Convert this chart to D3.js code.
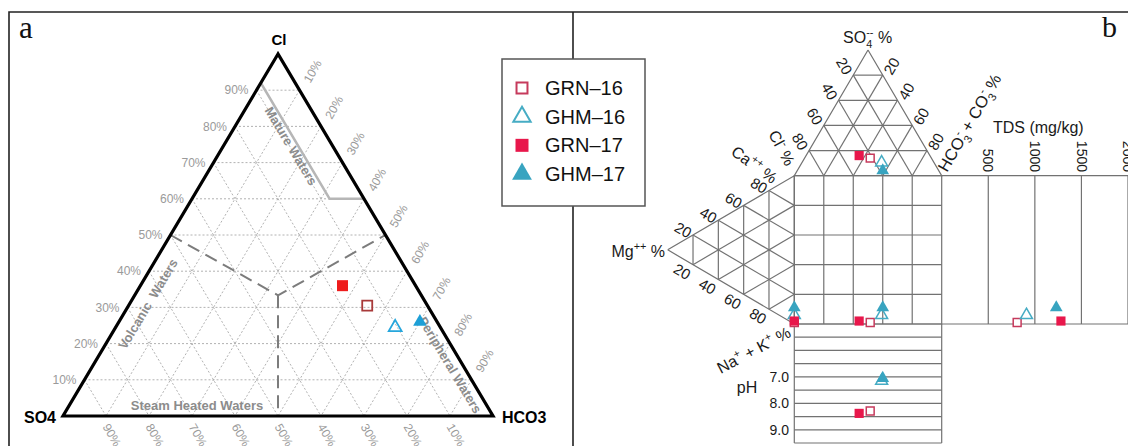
<!DOCTYPE html>
<html>
<head>
<meta charset="utf-8">
<script src="https://cdn.jsdelivr.net/npm/d3@7"></script>
<style>
  html, body { margin: 0; padding: 0; background: #fff; }
  svg { display: block; font-family: "Liberation Sans", Arial, Helvetica, sans-serif; }
</style>
</head>
<body>
<svg id="chart" width="1128" height="446"></svg>
<script>
// ---- samples ----
const samples = ["GRN\u201316", "GHM\u201316", "GRN\u201317", "GHM\u201317"];

// Giggenbach Cl–SO4–HCO3 ternary (%)
const gigCl   = [30.5, 24.5, 36, 26];
const gigSO4  = [14, 10.5, 17, 4];
const gigHCO3 = [55.5, 65, 47, 70];

// Durov diagram: anions (%)
const durSO4  = [14, 10.5, 16, 4];
const durCl   = [41.5, 35.5, 48, 38];
const durHCO3 = [44.5, 54, 36, 58];
// Durov diagram: cations (%)
const durCa   = [1, 6, 2, 11];
const durMg   = [0, 0, 0, 0];
const durNaK  = [99, 94, 98, 89];
// total dissolved solids (mg/kg) and pH
const tds = [810, 910, 1280, 1230];
const pH  = [8.29, 7.15, 8.38, 7.05];

// axis ticks
const gigTicks = [10, 20, 30, 40, 50, 60, 70, 80, 90];
const durTicks = [20, 40, 60, 80];
const tdsTicks = [500, 1000, 1500, 2000];
const pHLines  = [5, 5.5, 6, 6.5, 7, 7.5, 8, 8.5, 9, 9.5];
const pHLabels = [7, 8, 9];

// region boundaries of the Giggenbach plot, [Cl, SO4, HCO3]
const matureLine = [[92, 8, 0], [60, 8, 32], [60, 0, 40]];
const dashedLines = [
  [[50, 50, 0], [100/3, 100/3, 100/3], [50, 0, 50]],
  [[100/3, 100/3, 100/3], [0, 50, 50]]
];

// ---- styles ----
const symStyle = {
  gig: [
    { shape: d3.symbolSquare,   fill: "none",    stroke: "#a83a3a", area: 100 },
    { shape: d3.symbolTriangle, fill: "none",    stroke: "#26a6dc", area: 72 },
    { shape: d3.symbolSquare,   fill: "#ee1c1c", stroke: "none",    area: 121 },
    { shape: d3.symbolTriangle, fill: "#1d9fd6", stroke: "none",    area: 80 }
  ],
  dur: [
    { shape: d3.symbolSquare,   fill: "#fff",    stroke: "#c63a5c", area: 62 },
    { shape: d3.symbolTriangle, fill: "none",    stroke: "#46acc4", area: 62 },
    { shape: d3.symbolSquare,   fill: "#e8174b", stroke: "none",    area: 84 },
    { shape: d3.symbolTriangle, fill: "#38a4c0", stroke: "none",    area: 70 }
  ],
  legend: [
    { shape: d3.symbolSquare,   fill: "none",    stroke: "#c63a5c", area: 120 },
    { shape: d3.symbolTriangle, fill: "none",    stroke: "#46acc4", area: 130 },
    { shape: d3.symbolSquare,   fill: "#e8174b", stroke: "none",    area: 169 },
    { shape: d3.symbolTriangle, fill: "#38a4c0", stroke: "none",    area: 170 }
  ]
};

const svg = d3.select("#chart");
const lerp = (p, q, t) => [p[0] + (q[0] - p[0]) * t, p[1] + (q[1] - p[1]) * t];
const line = d3.line();

function symbols(g, pts, styles, sw) {
  pts.forEach((p, i) => {
    const s = styles[i];
    g.append("path")
      .attr("d", d3.symbol().type(s.shape).size(s.area)())
      .attr("transform", `translate(${p[0]},${p[1]})`)
      .attr("fill", s.fill)
      .attr("stroke", s.stroke)
      .attr("stroke-width", sw);
  });
}

// rich text with sub/superscripts
function rich(t, parts, fs) {
  let shift = 0;
  parts.forEach(p => {
    const target = p.sub ? fs * 0.3 : p.sup ? -fs * 0.42 : 0;
    const ts = t.append("tspan").attr("dy", target - shift).text(p.t);
    if (p.sub || p.sup) ts.attr("font-size", fs * 0.68);
    if (p.dx) ts.attr("dx", p.dx);
    shift = target;
  });
}

// ternary grid between corners A,B,C
function ternGrid(g, A, B, C, steps, attrs) {
  const segs = [];
  steps.forEach(t => {
    segs.push([lerp(A, B, t), lerp(A, C, t)]);
    segs.push([lerp(B, A, t), lerp(B, C, t)]);
    segs.push([lerp(C, A, t), lerp(C, B, t)]);
  });
  segs.forEach(s => {
    const l = g.append("path").attr("d", line(s)).attr("fill", "none");
    Object.entries(attrs).forEach(([k, v]) => l.attr(k, v));
  });
}

// ---- frame ----
svg.append("path").attr("d", "M9,446V12H1128")
  .attr("fill", "none").attr("stroke", "#222").attr("stroke-width", 1.6);
svg.append("path").attr("d", "M573,12V59M573,206V446")
  .attr("fill", "none").attr("stroke", "#222").attr("stroke-width", 1.6);
svg.append("text").attr("x", 19).attr("y", 38).attr("font-family", "'Liberation Serif', 'Times New Roman', serif")
  .attr("font-size", 31).attr("fill", "#111").text("a");
svg.append("text").attr("x", 1102).attr("y", 37).attr("font-family", "'Liberation Serif', 'Times New Roman', serif")
  .attr("font-size", 30).attr("fill", "#111").text("b");

// ================= panel a: Giggenbach ternary =================
const gX = d3.scaleLinear().domain([0, 100]).range([63, 493]);   // position along base
const gY = d3.scaleLinear().domain([0, 100]).range([416, 54]);   // Cl %
const gPt = (cl, so4, hco3) => [gX(hco3 + cl / 2), gY(cl)];

const ga = svg.append("g");
const gCl = gPt(100, 0, 0), gS = gPt(0, 100, 0), gH = gPt(0, 0, 100);
ternGrid(ga, gCl, gS, gH, gigTicks.map(v => v / 100),
  { stroke: "#a9a9a9", "stroke-width": 0.9, "stroke-dasharray": "2,2" });

// region boundaries
ga.append("path").attr("d", line(matureLine.map(d => gPt(...d))))
  .attr("fill", "none").attr("stroke", "#b6b6b6").attr("stroke-width", 2.6);
dashedLines.forEach(dl => {
  ga.append("path").attr("d", line(dl.map(d => gPt(...d))))
    .attr("fill", "none").attr("stroke", "#7c7c7c").attr("stroke-width", 2)
    .attr("stroke-dasharray", "13,7");
});

// outline
ga.append("path").attr("d", line([gCl, gS, gH]) + "Z")
  .attr("fill", "none").attr("stroke", "#000").attr("stroke-width", 3.2)
  .attr("stroke-linejoin", "miter");

// tick labels
const tickGray = "#9a9a9a";
gigTicks.forEach(v => {
  const pl = gPt(v, 100 - v, 0);
  ga.append("text").attr("x", pl[0] - 8).attr("y", pl[1]).attr("dy", "0.35em")
    .attr("text-anchor", "end").attr("font-size", 12).attr("fill", tickGray).text(v + "%");
  const pr = gPt(100 - v, 0, v);
  ga.append("text").attr("transform", `translate(${pr[0] + 13},${pr[1] - 19}) rotate(-60)`)
    .attr("dy", "0.35em").attr("text-anchor", "middle").attr("font-size", 12)
    .attr("fill", tickGray).text(v + "%");
  const pb = gPt(0, v, 100 - v);
  ga.append("text").attr("transform", `translate(${pb[0] + 6},${pb[1] + 19}) rotate(60)`)
    .attr("dy", "0.35em").attr("text-anchor", "middle").attr("font-size", 12)
    .attr("fill", tickGray).text(v + "%");
});

// corner labels
ga.append("text").attr("x", gCl[0] + 1).attr("y", 45).attr("text-anchor", "middle")
  .attr("font-weight", "bold").attr("font-size", 15).text("Cl");
ga.append("text").attr("x", 56).attr("y", 423).attr("text-anchor", "end")
  .attr("font-weight", "bold").attr("font-size", 16).text("SO4");
ga.append("text").attr("x", 502).attr("y", 423).attr("text-anchor", "start")
  .attr("font-weight", "bold").attr("font-size", 16).text("HCO3");

// region names
const regionStyle = t => t.attr("font-weight", "bold").attr("font-size", 13)
  .attr("fill", "#8c8c8c").attr("text-anchor", "middle").attr("dy", "0.35em");
regionStyle(ga.append("text").attr("transform", "translate(291,146) rotate(59)")).text("Mature Waters");
regionStyle(ga.append("text").attr("transform", "translate(148,304) rotate(-59)")
  .attr("xml:space", "preserve")).text("Volcanic  Waters");
regionStyle(ga.append("text").attr("transform", "translate(197,405)")).text("Steam Heated Waters");
regionStyle(ga.append("text").attr("transform", "translate(450,365) rotate(59)")).text("Peripheral Waters");

// samples
const gigPts = samples.map((_, i) => gPt(gigCl[i], gigSO4[i], gigHCO3[i]));
symbols(ga, gigPts, symStyle.gig, 1.8);

// ================= legend =================
const lg = svg.append("g");
lg.append("rect").attr("x", 502).attr("y", 59).attr("width", 143).attr("height", 147)
  .attr("fill", "#fff").attr("stroke", "#555").attr("stroke-width", 1.5);
const legY = d3.scalePoint().domain(samples).range([88, 174]);
samples.forEach((s, i) => {
  const y = legY(s);
  symbols(lg, [[522, y]], [symStyle.legend[i]], 2);
  lg.append("text").attr("x", 545).attr("y", y + 7).attr("font-size", 20).attr("fill", "#111").text(s);
});

// ================= panel b: Durov diagram =================
const gb = svg.append("g");
const gridStroke = { stroke: "#727272", "stroke-width": 1.2 };
const drawLine = (pts) => {
  const l = gb.append("path").attr("d", line(pts)).attr("fill", "none");
  Object.entries(gridStroke).forEach(([k, v]) => l.attr(k, v));
};

// anion triangle scales
const aX = d3.scaleLinear().domain([0, 100]).range([794.3, 941.7]);
const aY = d3.scaleLinear().domain([0, 100]).range([175.7, 50]);
const aPt = (so4, cl, hco3) => [aX(hco3 + so4 / 2), aY(so4)];
// cation triangle scales
const cY = d3.scaleLinear().domain([0, 100]).range([175.7, 324]);
const cX = d3.scaleLinear().domain([0, 100]).range([794.3, 667.7]);
const cPt = (ca, mg, nak) => [cX(mg), cY(nak + mg / 2)];
// TDS and pH fields
const tX = d3.scaleLinear().domain([0, 2000]).range([941.7, 1128]);
const pY = d3.scaleLinear().domain([5, 9.5]).range([324, 443]);

const aS = aPt(100, 0, 0), aCl = aPt(0, 100, 0), aH = aPt(0, 0, 100);
const cCa = cPt(100, 0, 0), cMg = cPt(0, 100, 0), cN = cPt(0, 0, 100);

ternGrid(gb, aS, aCl, aH, durTicks.map(v => v / 100), gridStroke);
ternGrid(gb, cMg, cCa, cN, durTicks.map(v => v / 100), gridStroke);
drawLine([aS, aCl, aH, aS]);
drawLine([cMg, cCa, cN, cMg]);

// central square
const sq = { x0: aX(0), x1: aX(100), y0: cY(0), y1: cY(100) };
drawLine([[sq.x0, sq.y0], [sq.x1, sq.y0], [sq.x1, sq.y1], [sq.x0, sq.y1], [sq.x0, sq.y0]]);
durTicks.forEach(v => {
  drawLine([[aX(v), sq.y0], [aX(v), sq.y1]]);
  drawLine([[sq.x0, cY(v)], [sq.x1, cY(v)]]);
});

// TDS field
drawLine([[sq.x1, sq.y0], [tX(2000), sq.y0]]);
drawLine([[sq.x1, sq.y1], [tX(2000), sq.y1]]);
tdsTicks.forEach(v => drawLine([[tX(v), sq.y0], [tX(v), sq.y1]]));

// pH field
drawLine([[sq.x0, pY(5)], [sq.x0, pY(9.5)]]);
drawLine([[sq.x1, pY(5)], [sq.x1, pY(9.5)]]);
pHLines.forEach(v => drawLine([[sq.x0, pY(v)], [sq.x1, pY(v)]]));

// ---- Durov labels ----
const lab = (tr, anchor, fs) => gb.append("text").attr("transform", tr)
  .attr("text-anchor", anchor).attr("font-size", fs).attr("fill", "#1a1a1a");

durTicks.forEach(v => {
  const pl = lerp(aS, aCl, v / 100);
  lab(`translate(${pl[0] - 9},${pl[1] - 9}) rotate(60)`, "middle", 15).attr("dy", "0.35em").text(v);
  const pr = lerp(aS, aH, v / 100);
  lab(`translate(${pr[0] + 9},${pr[1] - 9}) rotate(-60)`, "middle", 15).attr("dy", "0.35em").text(v);
  const pt = lerp(cMg, cCa, v / 100);
  lab(`translate(${pt[0] - 10},${pt[1] - 5}) rotate(30)`, "middle", 15).attr("dy", "0.35em").text(v);
  const pb = lerp(cMg, cN, v / 100);
  lab(`translate(${pb[0] - 11},${pb[1] + 7}) rotate(30)`, "middle", 15).attr("dy", "0.35em").text(v);
});

rich(lab(`translate(${aS[0] - 25},43)`, "start", 16),
  [{ t: "SO" }, { t: "4", sub: true }, { t: "--", sup: true, dx: -6 }, { t: " %" }], 16);
rich(lab("translate(768,134) rotate(62)", "start", 16),
  [{ t: "Cl" }, { t: "-", sup: true }, { t: " %" }], 16);
rich(lab("translate(730,154) rotate(36)", "start", 16),
  [{ t: "Ca" }, { t: "++", sup: true }, { t: " %" }], 16);
rich(lab("translate(947,173) rotate(-60)", "start", 16.5),
  [{ t: "HCO" }, { t: "3", sub: true }, { t: "-", sup: true, dx: -5 }, { t: " + CO" },
   { t: "3", sub: true }, { t: "-", sup: true, dx: -5 }, { t: " %" }], 16.5);
rich(lab("translate(665,257)", "end", 16),
  [{ t: "Mg" }, { t: "++", sup: true }, { t: " %" }], 16);
rich(lab("translate(792,336) rotate(-28)", "end", 16),
  [{ t: "Na" }, { t: "+", sup: true }, { t: " + K" }, { t: "+", sup: true }, { t: " %" }], 16);

lab("translate(747,387)", "middle", 16).attr("dy", "0.35em").text("pH");
pHLabels.forEach(v => {
  lab(`translate(789,${pY(v)})`, "end", 14).attr("dy", "0.35em").text(d3.format(".1f")(v));
});
lab("translate(993,133)", "start", 16).text("TDS (mg/kg)");
tdsTicks.forEach(v => {
  lab(`translate(${tX(v)},172) rotate(90)`, "end", 14).attr("dy", "0.35em").text(v);
});

// ---- Durov samples ----
const anX = samples.map((_, i) => aPt(durSO4[i], durCl[i], durHCO3[i])[0]);
const catY = samples.map((_, i) => cPt(durCa[i], durMg[i], durNaK[i])[1]);
symbols(gb, samples.map((_, i) => aPt(durSO4[i], durCl[i], durHCO3[i])), symStyle.dur, 1.5);
symbols(gb, samples.map((_, i) => cPt(durCa[i], durMg[i], durNaK[i])), symStyle.dur, 1.5);
symbols(gb, samples.map((_, i) => [anX[i], catY[i]]), symStyle.dur, 1.5);
symbols(gb, samples.map((_, i) => [tX(tds[i]), catY[i]]), symStyle.dur, 1.5);
symbols(gb, samples.map((_, i) => [anX[i], pY(pH[i])]), symStyle.dur, 1.5);
</script>
</body>
</html>
